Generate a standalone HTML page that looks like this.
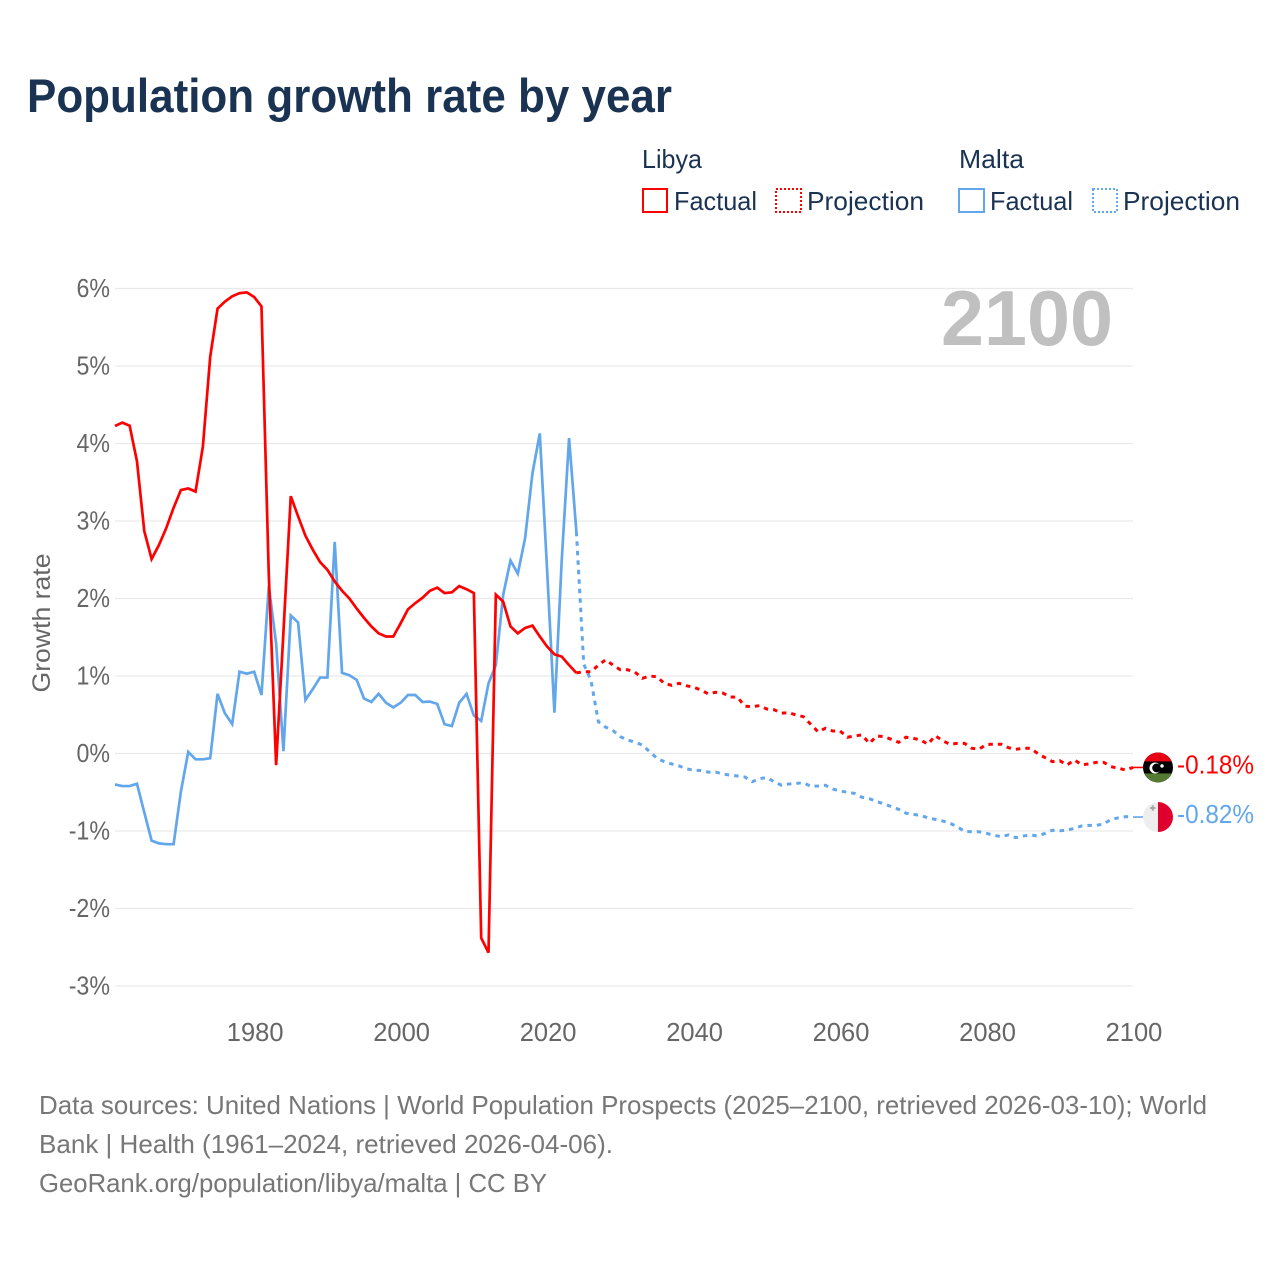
<!DOCTYPE html>
<html lang="en">
<head>
<meta charset="utf-8">
<title>Population growth rate by year</title>
<style>
html,body{margin:0;padding:0;background:#fff;}
svg{display:block;font-family:"Liberation Sans",sans-serif;}
</style>
</head>
<body>
<svg id="chart" xmlns="http://www.w3.org/2000/svg" width="1280" height="1280" viewBox="0 0 1280 1280">
  <rect x="0" y="0" width="1280" height="1280" fill="#fff"/>
  <text x="27" y="112" font-size="47" font-weight="700" fill="#1a3353" textLength="645" lengthAdjust="spacingAndGlyphs">Population growth rate by year</text>

  <g font-size="26" fill="#1a3353">
    <text x="642" y="168" textLength="60" lengthAdjust="spacingAndGlyphs">Libya</text>
    <g>
      <rect x="643" y="189" width="24" height="23" fill="none" stroke="#ff0000" stroke-width="2"/>
      <text x="674" y="210" textLength="83" lengthAdjust="spacingAndGlyphs">Factual</text>
    </g>
    <g>
      <rect x="776" y="189" width="25" height="23" fill="none" stroke="#ff0000" stroke-width="2" stroke-dasharray="2 2"/>
      <text x="807" y="210" textLength="117" lengthAdjust="spacingAndGlyphs">Projection</text>
    </g>
    <text x="959" y="168" textLength="65" lengthAdjust="spacingAndGlyphs">Malta</text>
    <g>
      <rect x="959" y="189" width="25" height="23" fill="none" stroke="#62a6ec" stroke-width="2"/>
      <text x="990" y="210" textLength="83" lengthAdjust="spacingAndGlyphs">Factual</text>
    </g>
    <g>
      <rect x="1093" y="189" width="24" height="23" fill="none" stroke="#62a6ec" stroke-width="2" stroke-dasharray="2 2"/>
      <text x="1123" y="210" textLength="117" lengthAdjust="spacingAndGlyphs">Projection</text>
    </g>
  </g>

  <g id="grid"></g>
  <g id="yticks"></g>
  <g id="xticks"></g>
  <text transform="translate(50,623) rotate(-90)" text-anchor="middle" font-size="25" fill="#666" textLength="139" lengthAdjust="spacingAndGlyphs">Growth rate</text>
  <text x="941" y="345" font-size="78" font-weight="700" fill="#c0c0c0" textLength="172" lengthAdjust="spacingAndGlyphs">2100</text>

  <g id="series"></g>

  <defs>
    <clipPath id="flag-clip-libya"><circle cx="0" cy="0" r="15"/></clipPath>
    <clipPath id="flag-clip-malta"><circle cx="0" cy="0" r="15"/></clipPath>
  </defs>
  <g id="flag-libya">
    <g clip-path="url(#flag-clip-libya)">
      <rect x="-15" y="-15" width="30" height="30" fill="#000"/>
      <rect x="-15" y="-15" width="30" height="9" fill="#e70013"/>
      <rect x="-15" y="6" width="30" height="9" fill="#557a33"/>
      <circle cx="-3" cy="0.5" r="5.5" fill="#fff"/>
      <circle cx="-1.4" cy="0.5" r="4.4" fill="#000"/>
      <circle cx="4" cy="-1.5" r="1.7" fill="#fff"/>
    </g>
  </g>
  <g id="flag-malta">
    <g clip-path="url(#flag-clip-malta)">
      <rect x="-15" y="-15" width="15" height="30" fill="#eeeeee"/>
      <rect x="0" y="-15" width="15" height="30" fill="#e0002d"/>
      <rect x="-8" y="-10" width="5.5" height="2" fill="#a8a8a8"/>
      <rect x="-6.2" y="-11.8" width="2" height="5.5" fill="#a8a8a8"/>
    </g>
  </g>
  <g id="end-labels"></g>

  <g font-size="26" fill="#777">
    <text x="39" y="1114" textLength="1168" lengthAdjust="spacingAndGlyphs">Data sources: United Nations | World Population Prospects (2025–2100, retrieved 2026-03-10); World</text>
    <text x="39" y="1153" textLength="574" lengthAdjust="spacingAndGlyphs">Bank | Health (1961–2024, retrieved 2026-04-06).</text>
    <text x="39" y="1192" textLength="508" lengthAdjust="spacingAndGlyphs">GeoRank.org/population/libya/malta | CC BY</text>
  </g>
</svg>

<script>
// Chart data (growth rate, % per year)
const firstYear = 1961;
const projectionFirstYear = 2024;
const yTickValues = [6, 5, 4, 3, 2, 1, 0, -1, -2, -3];
const yTickLabels = ["6%", "5%", "4%", "3%", "2%", "1%", "0%", "-1%", "-2%", "-3%"];
const xTickYears = [1980, 2000, 2020, 2040, 2060, 2080, 2100];
const xTickLabels = ["1980", "2000", "2020", "2040", "2060", "2080", "2100"];

// 1961 to 2024
const libyaFactual = [4.226, 4.27, 4.23, 3.77, 2.87, 2.51, 2.69, 2.91, 3.17, 3.40, 3.42, 3.38, 3.96, 5.12, 5.74, 5.83, 5.90, 5.94, 5.95, 5.89, 5.77, 2.30, -0.15, 1.57, 3.32, 3.06, 2.81, 2.63, 2.47, 2.37, 2.22, 2.10, 2.00, 1.87, 1.75, 1.64, 1.55, 1.51, 1.51, 1.68, 1.86, 1.94, 2.01, 2.10, 2.14, 2.07, 2.08, 2.16, 2.12, 2.07, -2.38, -2.57, 2.05, 1.96, 1.64, 1.55, 1.62, 1.65, 1.51, 1.38, 1.28, 1.25, 1.14, 1.04];

// 2024 to 2100
const libyaProjection = [1.04, 1.055, 1.055, 1.14, 1.21, 1.14, 1.08, 1.08, 1.05, 0.97, 1.0, 0.99, 0.905, 0.88, 0.905, 0.875, 0.855, 0.82, 0.77, 0.79, 0.78, 0.73, 0.725, 0.61, 0.605, 0.617, 0.574, 0.565, 0.52, 0.526, 0.497, 0.475, 0.377, 0.28, 0.325, 0.29, 0.29, 0.21, 0.226, 0.24, 0.13, 0.226, 0.217, 0.183, 0.144, 0.21, 0.196, 0.174, 0.12, 0.23, 0.165, 0.12, 0.13, 0.13, 0.067, 0.058, 0.118, 0.12, 0.12, 0.075, 0.054, 0.067, 0.067, 0.0, -0.054, -0.105, -0.093, -0.148, -0.084, -0.144, -0.135, -0.114, -0.114, -0.17, -0.19, -0.213, -0.18];

// 1961 to 2024
const maltaFactual = [-0.40, -0.42, -0.42, -0.39, -0.76, -1.125, -1.16, -1.17, -1.17, -0.49, 0.02, -0.075, -0.075, -0.06, 0.77, 0.52, 0.38, 1.055, 1.03, 1.055, 0.755, 2.16, 1.42, 0.03, 1.78, 1.69, 0.69, 0.83, 0.98, 0.98, 2.73, 1.04, 1.01, 0.95, 0.71, 0.665, 0.77, 0.655, 0.595, 0.655, 0.755, 0.755, 0.665, 0.67, 0.64, 0.377, 0.355, 0.655, 0.77, 0.49, 0.42, 0.905, 1.14, 2.045, 2.49, 2.32, 2.78, 3.615, 4.13, 2.37, 0.527, 2.5, 4.07, 2.86];

// 2024 to 2100
const maltaProjection = [2.86, 1.155, 0.94, 0.41, 0.34, 0.295, 0.217, 0.174, 0.145, 0.11, 0.023, -0.062, -0.105, -0.135, -0.16, -0.196, -0.217, -0.22, -0.24, -0.24, -0.265, -0.28, -0.29, -0.303, -0.364, -0.325, -0.31, -0.364, -0.41, -0.394, -0.385, -0.377, -0.423, -0.42, -0.41, -0.458, -0.484, -0.50, -0.515, -0.565, -0.583, -0.62, -0.65, -0.686, -0.72, -0.77, -0.785, -0.80, -0.83, -0.85, -0.87, -0.90, -0.945, -1.005, -1.01, -1.01, -1.03, -1.055, -1.073, -1.05, -1.086, -1.065, -1.05, -1.065, -1.03, -0.99, -0.996, -0.99, -0.965, -0.935, -0.927, -0.927, -0.91, -0.85, -0.83, -0.815, -0.82];

const endLabels = ["-0.18%", "-0.82%"];

// Axis functions
const SVG_NS = "http://www.w3.org/2000/svg";
const plotLeft = 115, plotRight = 1133;
function xScale(year) { return plotLeft + (year - 1961) * (plotRight - plotLeft) / (2100 - 1961); }
function yScale(value) { return 753.5 - value * 77.5; }

function pathFor(values, startYear) {
  return values.map(function (v, i) {
    return (i ? "L" : "M") + xScale(startYear + i).toFixed(2) + " " + yScale(v).toFixed(2);
  }).join(" ");
}

const gridGroup = document.getElementById("grid");
const yTickGroup = document.getElementById("yticks");
yTickValues.forEach(function (v, i) {
  const line = document.createElementNS(SVG_NS, "line");
  
  
  line.setAttribute("x1", plotLeft);
  line.setAttribute("x2", plotRight);
  line.setAttribute("y1", yScale(v));
  line.setAttribute("y2", yScale(v));
  line.setAttribute("stroke", "#e9e9e9");
  line.setAttribute("stroke-width", "1.2");
  gridGroup.appendChild(line);

  const t = document.createElementNS(SVG_NS, "text");
  
  
  t.setAttribute("x", 110);
  t.setAttribute("y", yScale(v) + 8.5);
  t.setAttribute("text-anchor", "end");
  t.setAttribute("font-size", "25.5");
  t.setAttribute("fill", "#666");
  t.textContent = yTickLabels[i];
  yTickGroup.appendChild(t);
  t.setAttribute("textLength", (t.getComputedTextLength() * 0.91).toFixed(1));
  t.setAttribute("lengthAdjust", "spacingAndGlyphs");
});

const xTickGroup = document.getElementById("xticks");
xTickYears.forEach(function (yr, i) {
  const t = document.createElementNS(SVG_NS, "text");
  
  
  t.setAttribute("x", xScale(yr) + 1);
  t.setAttribute("y", 1041);
  t.setAttribute("text-anchor", "middle");
  t.setAttribute("font-size", "25.5");
  t.setAttribute("fill", "#666");
  t.textContent = xTickLabels[i];
  xTickGroup.appendChild(t);
});

const seriesGroup = document.getElementById("series");
function addLine(name, values, startYear, color, dashed) {
  const p = document.createElementNS(SVG_NS, "path");
  
  
  p.setAttribute("d", pathFor(values, startYear));
  p.setAttribute("fill", "none");
  p.setAttribute("stroke", color);
  p.setAttribute("stroke-width", dashed ? "3" : "2.7");
  p.setAttribute("stroke-linejoin", "miter");
  if (dashed) { p.setAttribute("stroke-dasharray", "4.5 5"); }
  seriesGroup.appendChild(p);
}
const blue = "#62a6ec", red = "#ff0000";
addLine("malta-factual-line", maltaFactual, firstYear, blue, false);
addLine("malta-projection-line", maltaProjection, projectionFirstYear, blue, true);
addLine("libya-factual-line", libyaFactual, firstYear, red, false);
addLine("libya-projection-line", libyaProjection, projectionFirstYear, red, true);

// End markers and value labels follow the last projection value
const endGroup = document.getElementById("end-labels");
const flagX = 1158;
function addEnd(values, color, flagId, labelIndex, name) {
  const last = values[values.length - 1];
  const yy = yScale(last);
  document.getElementById(flagId).setAttribute("transform", "translate(" + flagX + "," + yy.toFixed(2) + ")");

  const c = document.createElementNS(SVG_NS, "line");
  
  
  c.setAttribute("x1", xScale(2100));
  c.setAttribute("x2", flagX - 15);
  c.setAttribute("y1", yy);
  c.setAttribute("y2", yy);
  c.setAttribute("stroke", color);
  c.setAttribute("stroke-width", "1.6");
  endGroup.appendChild(c);

  const t = document.createElementNS(SVG_NS, "text");
  
  
  t.setAttribute("x", 1177);
  t.setAttribute("y", yy + 6);
  t.setAttribute("font-size", "25.5");
  t.setAttribute("fill", color);
  t.setAttribute("textLength", "77");
  t.setAttribute("lengthAdjust", "spacingAndGlyphs");
  t.textContent = endLabels[labelIndex];
  endGroup.appendChild(t);
}
addEnd(libyaProjection, red, "flag-libya", 0, "libya");
addEnd(maltaProjection, blue, "flag-malta", 1, "malta");
</script>
</body>
</html>
